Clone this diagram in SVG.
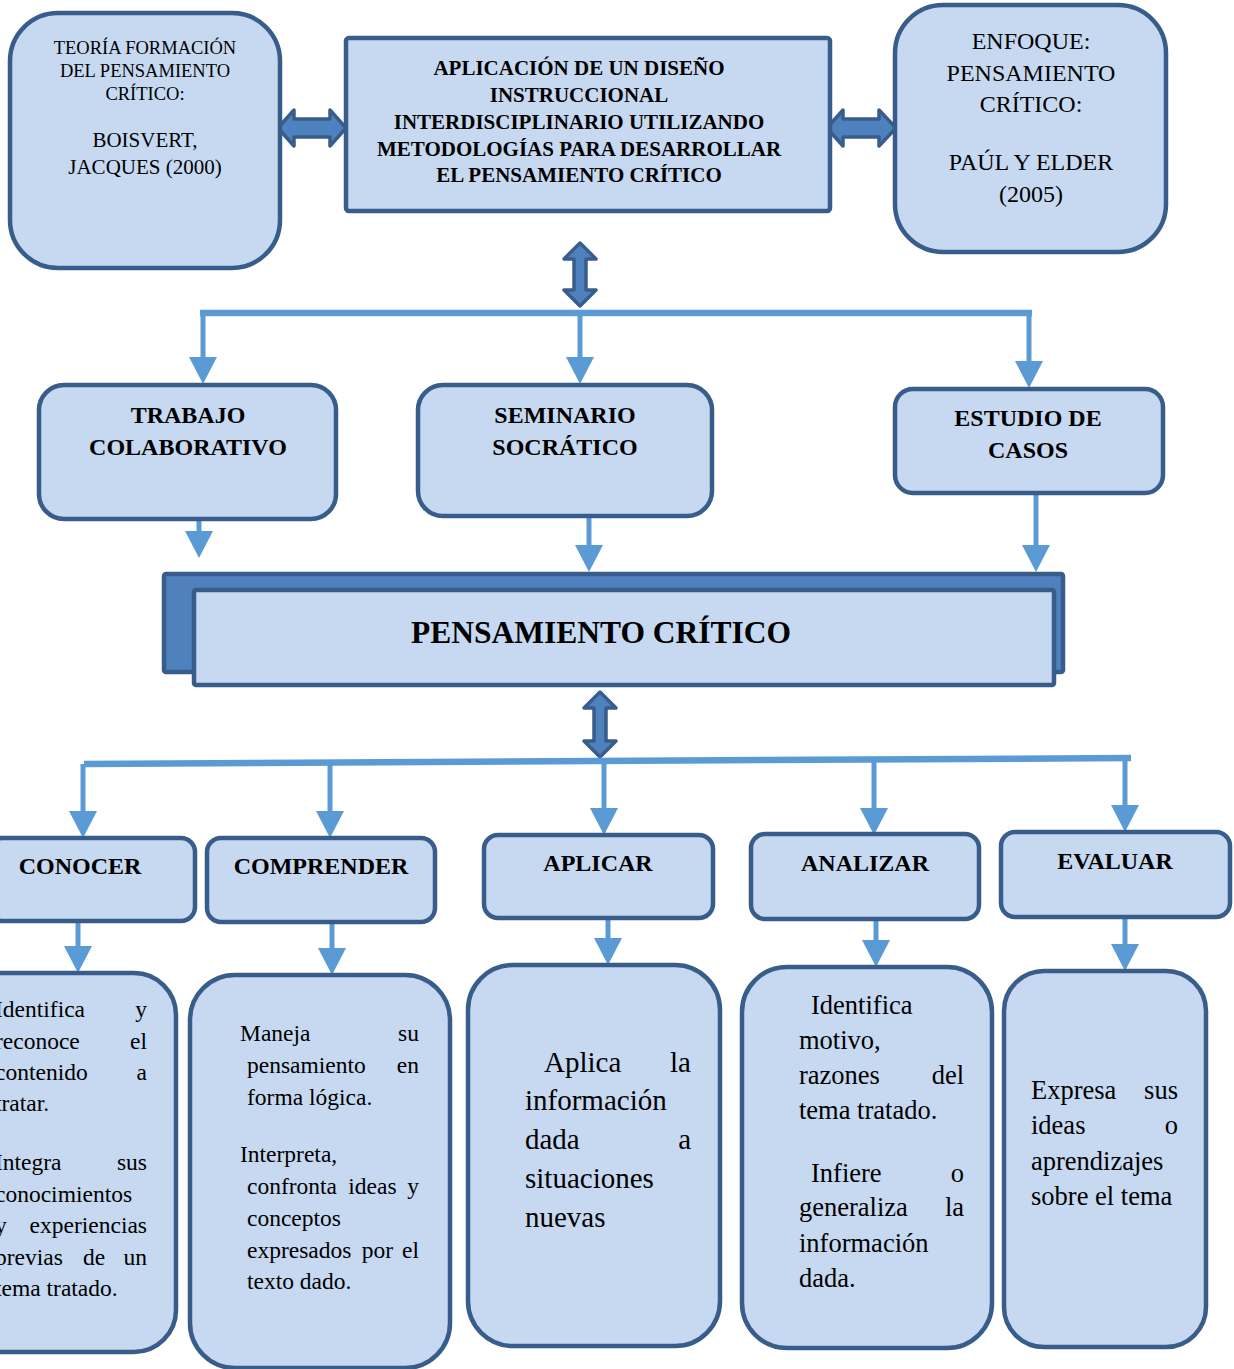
<svg xmlns="http://www.w3.org/2000/svg" width="1234" height="1369" viewBox="0 0 1234 1369">
<style>
.box{fill:#C6D9F1;stroke:#385D8A;stroke-width:4.5}
.back{fill:#4F81BD;stroke:#385D8A;stroke-width:4.5}
.conn{stroke:#5B9BD5;fill:none;stroke-width:5}
.bar{stroke:#5B9BD5;fill:none;stroke-width:6.5}
.dbl{fill:#4F81BD;stroke:#385D8A;stroke-width:3.5;stroke-linejoin:round}
text{font-family:"Liberation Serif","Times New Roman",serif;fill:#000}
.b{font-weight:bold}
.c{text-anchor:middle}
.e{text-anchor:end}
.m{text-anchor:middle}
</style>
<defs>
<marker id="ah" markerUnits="userSpaceOnUse" viewBox="0 -14 27 28" markerWidth="27" markerHeight="28" refX="0" refY="0" orient="auto">
<path d="M0,-14 L27,0 L0,14 Z" fill="#5B9BD5"/>
</marker>
</defs>
<rect width="1234" height="1369" fill="#fff"/>

<g id="connectors">
<path class="dbl" d="M278,128 L294,110 L294,119 L330,119 L330,110 L346,128 L330,146 L330,137 L294,137 L294,146 Z"/>
<path class="dbl" d="M827,128 L843,110 L843,119 L879,119 L879,110 L896,128 L879,146 L879,137 L843,137 L843,146 Z"/>
<path class="dbl" d="M580,243 L596,259 L586,259 L586,290 L596,290 L580,306 L564,290 L574,290 L574,259 L564,259 Z"/>
<path class="dbl" d="M600,692 L616,708 L606,708 L606,741 L616,741 L600,757 L584,741 L594,741 L594,708 L584,708 Z"/>
<line class="bar" x1="200" y1="313" x2="1032" y2="313"/>
<line class="conn" x1="203" y1="313" x2="203" y2="357" marker-end="url(#ah)"/>
<line class="conn" x1="580" y1="313" x2="580" y2="357" marker-end="url(#ah)"/>
<line class="conn" x1="1029" y1="313" x2="1029" y2="361" marker-end="url(#ah)"/>
<line class="conn" x1="199" y1="519" x2="199" y2="531" marker-end="url(#ah)"/>
<line class="conn" x1="589" y1="517" x2="589" y2="545" marker-end="url(#ah)"/>
<line class="conn" x1="1036" y1="493" x2="1036" y2="545" marker-end="url(#ah)"/>
<line class="bar" x1="84" y1="764" x2="1131" y2="758"/>
<line class="conn" x1="83" y1="764" x2="83" y2="811" marker-end="url(#ah)"/>
<line class="conn" x1="330" y1="762" x2="330" y2="811" marker-end="url(#ah)"/>
<line class="conn" x1="604" y1="760" x2="604" y2="808" marker-end="url(#ah)"/>
<line class="conn" x1="874" y1="759" x2="874" y2="808" marker-end="url(#ah)"/>
<line class="conn" x1="1125" y1="758" x2="1125" y2="805" marker-end="url(#ah)"/>
<line class="conn" x1="78" y1="921" x2="78" y2="946" marker-end="url(#ah)"/>
<line class="conn" x1="332" y1="922" x2="332" y2="948" marker-end="url(#ah)"/>
<line class="conn" x1="608" y1="918" x2="608" y2="938" marker-end="url(#ah)"/>
<line class="conn" x1="876" y1="919" x2="876" y2="940" marker-end="url(#ah)"/>
<line class="conn" x1="1125" y1="917" x2="1125" y2="944" marker-end="url(#ah)"/>
</g>

<g id="teoria">
<rect class="box" x="10" y="13" width="270" height="255" rx="48"/>
<text class="c" font-size="18.5"><tspan x="145" y="54">TEORÍA FORMACIÓN</tspan><tspan x="145" y="77">DEL PENSAMIENTO</tspan><tspan x="145" y="100">CRÍTICO:</tspan></text>
<text class="c" font-size="21"><tspan x="145" y="147">BOISVERT,</tspan><tspan x="145" y="174">JACQUES (2000)</tspan></text>
</g>

<g id="aplicacion">
<rect class="box" x="346" y="38" width="484" height="173" rx="3"/>
<text class="b c" font-size="21"><tspan x="579" y="75">APLICACIÓN DE UN DISEÑO</tspan><tspan x="579" y="102">INSTRUCCIONAL</tspan><tspan x="579" y="129">INTERDISCIPLINARIO UTILIZANDO</tspan><tspan x="579" y="156">METODOLOGÍAS PARA DESARROLLAR</tspan><tspan x="579" y="182">EL PENSAMIENTO CRÍTICO</tspan></text>
</g>

<g id="enfoque">
<rect class="box" x="895" y="5" width="271" height="247" rx="48"/>
<text class="c" font-size="24"><tspan x="1031" y="49">ENFOQUE:</tspan><tspan x="1031" y="81">PENSAMIENTO</tspan><tspan x="1031" y="112">CRÍTICO:</tspan><tspan x="1031" y="170">PAÚL Y ELDER</tspan><tspan x="1031" y="202">(2005)</tspan></text>
</g>

<g id="trabajo">
<rect class="box" x="39" y="385" width="297" height="134" rx="25"/>
<text class="b c" font-size="24"><tspan x="188" y="423">TRABAJO</tspan><tspan x="188" y="455">COLABORATIVO</tspan></text>
</g>

<g id="seminario">
<rect class="box" x="418" y="385" width="294" height="131" rx="25"/>
<text class="b c" font-size="24"><tspan x="565" y="423">SEMINARIO</tspan><tspan x="565" y="455">SOCRÁTICO</tspan></text>
</g>

<g id="estudio">
<rect class="box" x="895" y="389" width="268" height="104" rx="18"/>
<text class="b c" font-size="24"><tspan x="1028" y="426">ESTUDIO DE</tspan><tspan x="1028" y="458">CASOS</tspan></text>
</g>

<g id="pensamiento">
<rect class="back" x="164" y="574" width="899" height="98" rx="2"/>
<rect class="box" x="194" y="590" width="860" height="95" rx="2"/>
<text class="b c" font-size="31.5" x="601" y="643">PENSAMIENTO CRÍTICO</text>
</g>

<g id="conocer">
<rect class="box" x="-12" y="838" width="207" height="83" rx="14"/>
<text class="b c" font-size="24" x="80" y="874">CONOCER</text>
</g>

<g id="comprender">
<rect class="box" x="207" y="838" width="228" height="84" rx="14"/>
<text class="b c" font-size="24" x="321" y="874">COMPRENDER</text>
</g>

<g id="aplicar">
<rect class="box" x="484" y="835" width="229" height="83" rx="14"/>
<text class="b c" font-size="24" x="598" y="871">APLICAR</text>
</g>

<g id="analizar">
<rect class="box" x="751" y="834" width="228" height="85" rx="14"/>
<text class="b c" font-size="24" x="865" y="871">ANALIZAR</text>
</g>

<g id="evaluar">
<rect class="box" x="1001" y="832" width="229" height="85" rx="14"/>
<text class="b c" font-size="24" x="1115" y="869">EVALUAR</text>
</g>

<g id="conocer-desc">
<rect class="box" x="-40" y="973" width="216" height="379" rx="42"/>
<text font-size="23.5"><tspan x="-5" y="1017">Identifica</tspan><tspan class="e" x="147" y="1017">y</tspan><tspan x="-5" y="1049">reconoce</tspan><tspan class="e" x="147" y="1049">el</tspan><tspan x="-5" y="1080">contenido</tspan><tspan class="e" x="147" y="1080">a</tspan><tspan x="-5" y="1111">tratar.</tspan><tspan x="-5" y="1170">Integra</tspan><tspan class="e" x="147" y="1170">sus</tspan><tspan x="-5" y="1202">conocimientos</tspan><tspan x="-5" y="1233">y</tspan><tspan class="e" x="147" y="1233">experiencias</tspan><tspan x="-5" y="1265">previas</tspan><tspan class="m" x="94" y="1265">de</tspan><tspan class="e" x="147" y="1265">un</tspan><tspan x="-5" y="1296">tema tratado.</tspan></text>
</g>

<g id="comprender-desc">
<rect class="box" x="190" y="975" width="260" height="393" rx="45"/>
<text font-size="23.5"><tspan x="240" y="1041">Maneja</tspan><tspan class="e" x="419" y="1041">su</tspan><tspan x="247" y="1073">pensamiento</tspan><tspan class="e" x="419" y="1073">en</tspan><tspan x="247" y="1105">forma lógica.</tspan><tspan x="240" y="1162">Interpreta,</tspan><tspan x="247" y="1194">confronta</tspan><tspan class="m" x="372.5" y="1194">ideas</tspan><tspan class="e" x="419" y="1194">y</tspan><tspan x="247" y="1226">conceptos</tspan><tspan x="247" y="1258">expresados</tspan><tspan class="m" x="377.5" y="1258">por</tspan><tspan class="e" x="419" y="1258">el</tspan><tspan x="247" y="1289">texto dado.</tspan></text>
</g>

<g id="aplicar-desc">
<rect class="box" x="468" y="965" width="252" height="381" rx="45"/>
<text font-size="29"><tspan x="544" y="1072">Aplica</tspan><tspan class="e" x="691" y="1072">la</tspan><tspan x="525" y="1110">información</tspan><tspan x="525" y="1149">dada</tspan><tspan class="e" x="691" y="1149">a</tspan><tspan x="525" y="1188">situaciones</tspan><tspan x="525" y="1227">nuevas</tspan></text>
</g>

<g id="analizar-desc">
<rect class="box" x="742" y="967" width="250" height="381" rx="45"/>
<text font-size="26.5"><tspan x="811" y="1014">Identifica</tspan><tspan x="799" y="1049">motivo,</tspan><tspan x="799" y="1084">razones</tspan><tspan class="e" x="964" y="1084">del</tspan><tspan x="799" y="1119">tema tratado.</tspan><tspan x="811" y="1182">Infiere</tspan><tspan class="e" x="964" y="1182">o</tspan><tspan x="799" y="1216">generaliza</tspan><tspan class="e" x="964" y="1216">la</tspan><tspan x="799" y="1252">información</tspan><tspan x="799" y="1287">dada.</tspan></text>
</g>

<g id="evaluar-desc">
<rect class="box" x="1004" y="971" width="202" height="376" rx="40"/>
<text font-size="26.5"><tspan x="1031" y="1099">Expresa</tspan><tspan class="e" x="1178" y="1099">sus</tspan><tspan x="1031" y="1134">ideas</tspan><tspan class="e" x="1178" y="1134">o</tspan><tspan x="1031" y="1170">aprendizajes</tspan><tspan x="1031" y="1205">sobre el tema</tspan></text>
</g>
</svg>
